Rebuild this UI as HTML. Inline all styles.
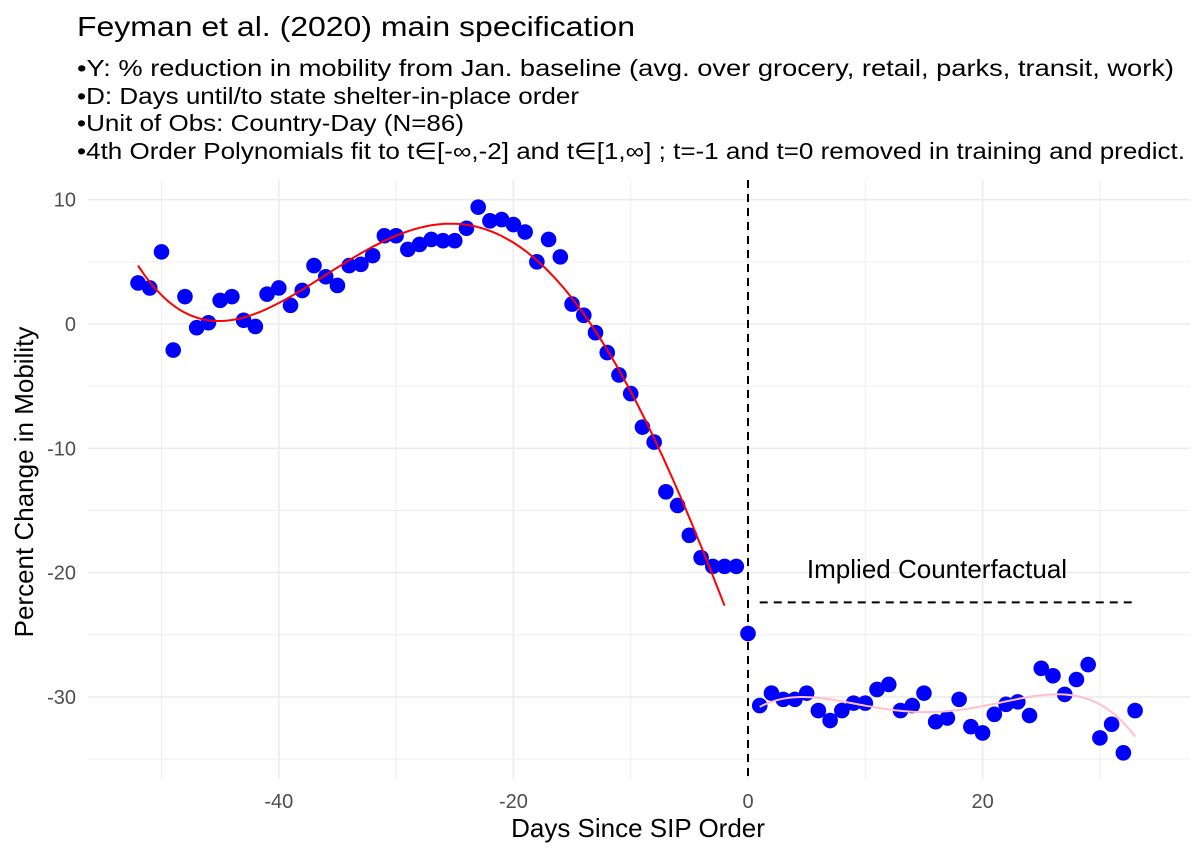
<!DOCTYPE html>
<html><head><meta charset="utf-8"><style>
body{margin:0;background:#fff;}
svg text{font-family:"Liberation Sans",sans-serif;}
</style></head><body>
<svg id="chart" width="1200" height="857" xmlns="http://www.w3.org/2000/svg">
<text x="77" y="36" font-size="28" fill="#000" textLength="558" lengthAdjust="spacingAndGlyphs">Feyman et al. (2020) main specification</text>
<g font-size="23" fill="#000">
<text x="77" y="76" textLength="1097" lengthAdjust="spacingAndGlyphs">•Y: % reduction in mobility from Jan. baseline (avg. over grocery, retail, parks, transit, work)</text>
<text x="77" y="104" textLength="502" lengthAdjust="spacingAndGlyphs">•D: Days until/to state shelter-in-place order</text>
<text x="77" y="131" textLength="387" lengthAdjust="spacingAndGlyphs">•Unit of Obs: Country-Day (N=86)</text>
<text x="77" y="159" textLength="1108" lengthAdjust="spacingAndGlyphs">•4th Order Polynomials fit to t∈[-∞,-2] and t∈[1,∞] ; t=-1 and t=0 removed in training and predict.</text>
</g>
<g id="grid"></g>
<g id="marks"></g>
<text x="638" y="837" font-size="26" text-anchor="middle" fill="#000">Days Since SIP Order</text>
<text transform="translate(33,482) rotate(-90)" font-size="26" text-anchor="middle" fill="#000">Percent Change in Mobility</text>
<text x="937" y="578" font-size="26" text-anchor="middle" fill="#000">Implied Counterfactual</text>
</svg>
<script>
const preValues=[3.3,2.9,5.8,-2.1,2.2,-0.3,0.1,1.9,2.2,0.3,-0.2,2.4,2.9,1.5,2.7,4.7,3.8,3.1,4.7,4.8,5.5,7.1,7.1,6.0,6.4,6.8,6.7,6.7,7.7,9.4,8.3,8.4,8.0,7.4,5.0,6.8,5.4,1.6,0.7,-0.7,-2.3,-4.1,-5.6,-8.3,-9.5,-13.5,-14.6,-17.0,-18.8,-19.5,-19.5,-19.5,-24.9];
const postValues=[-30.7,-29.7,-30.2,-30.2,-29.7,-31.1,-31.9,-31.1,-30.5,-30.5,-29.4,-29.0,-31.1,-30.7,-29.7,-32.0,-31.7,-30.2,-32.4,-32.9,-31.4,-30.6,-30.4,-31.5,-27.7,-28.3,-29.8,-28.6,-27.4,-33.3,-32.2,-34.5,-31.1];
const preStartDay=-52;
const counterfactualValue=-22.4;
const xTicks=[-40,-20,0,20];
const yTicks=[10,0,-10,-20,-30];
const NS="http://www.w3.org/2000/svg";
const X=d=>748+d*11.73, Y=v=>324-v*12.43;
const L=88,R=1190,T=180,B=779;
function mk(tag,attrs,parent){const e=document.createElementNS(NS,tag);for(const k in attrs)e.setAttribute(k,attrs[k]);parent.appendChild(e);return e;}
const grid=document.getElementById('grid'),marks=document.getElementById('marks');
for(let d=-50;d<=30;d+=10){const g=mk('line',{x1:X(d),x2:X(d),y1:T,y2:B,stroke:'#ebebeb','stroke-width':d%20===0?1.6:0.8},grid);

}
for(let v=15;v>=-35;v-=5){const y=Y(v);if(y<T||y>B)continue;const g=mk('line',{x1:L,x2:R,y1:y,y2:y,stroke:'#ebebeb','stroke-width':v%10===0?1.6:0.8},grid);

}
xTicks.forEach(t=>{const e=mk('text',{x:X(t),y:808,'font-size':20,'text-anchor':'middle',fill:'#4d4d4d'},grid);e.textContent=t;

});
yTicks.forEach(t=>{const e=mk('text',{x:76,y:Y(t)+7,'font-size':20,'text-anchor':'end',fill:'#4d4d4d'},grid);e.textContent=t;

});
function polyfit(xs,ys,deg){const m=xs.reduce((a,b)=>a+b)/xs.length;const s=Math.max(...xs.map(x=>Math.abs(x-m)))||1;const n=deg+1;const A=[...Array(n)].map(()=>Array(n+1).fill(0));
xs.forEach((x,i)=>{const z=(x-m)/s;const p=[];for(let k=0;k<n;k++)p.push(Math.pow(z,k));for(let a=0;a<n;a++){for(let b=0;b<n;b++)A[a][b]+=p[a]*p[b];A[a][n]+=p[a]*ys[i];}});
for(let c=0;c<n;c++){let piv=c;for(let r=c+1;r<n;r++)if(Math.abs(A[r][c])>Math.abs(A[piv][c]))piv=r;[A[c],A[piv]]=[A[piv],A[c]];for(let r=0;r<n;r++){if(r===c)continue;const f=A[r][c]/A[c][c];for(let k=c;k<=n;k++)A[r][k]-=f*A[c][k];}}
const co=A.map((r,i)=>r[n]/r[i]);return x=>{const z=(x-m)/s;let v=0;for(let k=n-1;k>=0;k--)v=v*z+co[k];return v;};}
const preDays=preValues.map((_,i)=>preStartDay+i), postDays=postValues.map((_,i)=>1+i);
const trX=[],trY=[];preDays.forEach((d,i)=>{if(d<=-2){trX.push(d);trY.push(preValues[i]);}});
const f1=polyfit(trX,trY,4),f2=polyfit(postDays,postValues,4);
function curve(f,a,b,col,name){let p='';for(let d=a;d<=b+1e-9;d+=0.25)p+=(p?'L':'M')+X(d).toFixed(1)+','+Y(f(d)).toFixed(1);const e=mk('path',{d:p,fill:'none',stroke:col,'stroke-width':2},marks);

}
const vl=mk('line',{x1:X(0),x2:X(0),y1:T,y2:B,stroke:'#000','stroke-width':2,'stroke-dasharray':'8,6'},marks);


const cf=mk('line',{x1:X(1),x2:X(postDays[postDays.length-1]),y1:Y(counterfactualValue),y2:Y(counterfactualValue),stroke:'#000','stroke-width':2,'stroke-dasharray':'8,6'},marks);


preDays.forEach((d,i)=>{const c=mk('circle',{cx:X(d),cy:Y(preValues[i]),r:7.8,fill:'#0000ff'},marks);

});
postDays.forEach((d,i)=>{const c=mk('circle',{cx:X(d),cy:Y(postValues[i]),r:7.8,fill:'#0000ff'},marks);

});
curve(f1,preDays[0],-2,'#ff0000','pre-fit-curve');
curve(f2,1,postDays[postDays.length-1],'#ffc0cb','post-fit-curve');
</script>
</body></html>
